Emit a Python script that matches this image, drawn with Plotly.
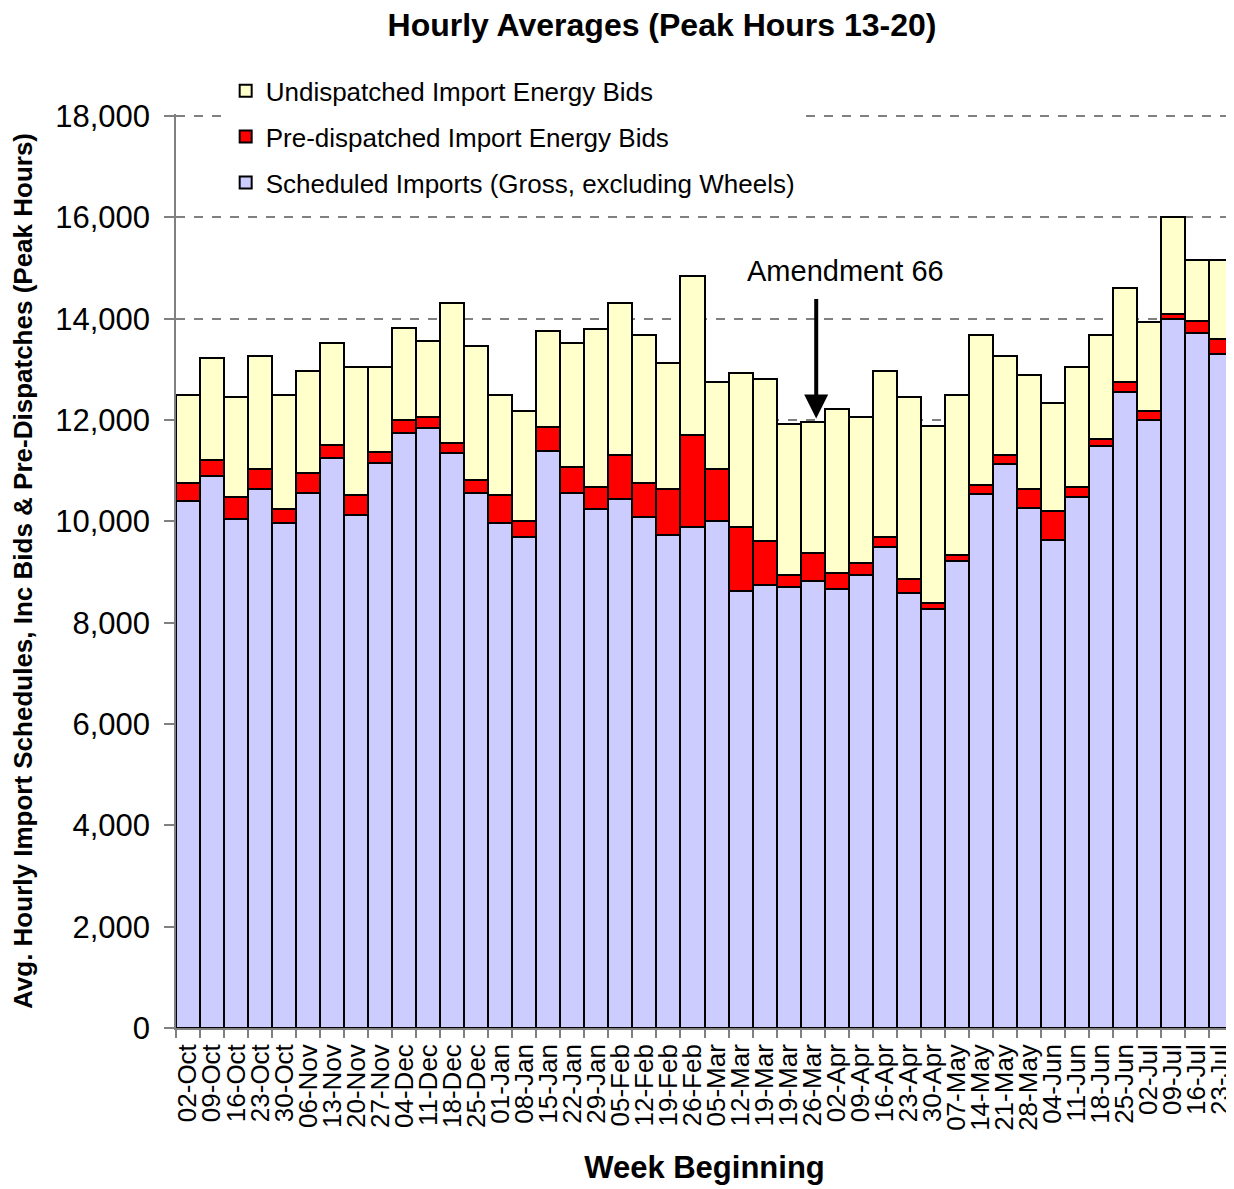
import plotly.graph_objects as go

weeks = ["02-Oct", "09-Oct", "16-Oct", "23-Oct", "30-Oct", "06-Nov", "13-Nov", "20-Nov", "27-Nov",
         "04-Dec", "11-Dec", "18-Dec", "25-Dec", "01-Jan", "08-Jan", "15-Jan", "22-Jan", "29-Jan",
         "05-Feb", "12-Feb", "19-Feb", "26-Feb", "05-Mar", "12-Mar", "19-Mar", "19-Mar", "26-Mar",
         "02-Apr", "09-Apr", "16-Apr", "23-Apr", "30-Apr", "07-May", "14-May", "21-May", "28-May",
         "04-Jun", "11-Jun", "18-Jun", "25-Jun", "02-Jul", "09-Jul", "16-Jul", "23-Jul"]

scheduled = [10400, 10900, 10040, 10630, 9960, 10560, 11260, 10120, 11150,
             11740, 11850, 11340, 10560, 9960, 9690, 11380, 10550, 10240,
             10440, 10080, 9730, 9890, 10000, 8630, 8740, 8700, 8820,
             8660, 8940, 9490, 8580, 8270, 9220, 10540, 11130, 10270,
             9640, 10480, 11490, 12560, 12010, 13990, 13710, 13310]

predispatched = [360, 320, 440, 400, 280, 390, 240, 400, 220,
                 270, 200, 200, 260, 560, 310, 480, 520, 430,
                 870, 670, 900, 1810, 1030, 1260, 870, 240, 550,
                 320, 240, 210, 290, 120, 120, 170, 170, 370,
                 560, 190, 130, 200, 160, 110, 240, 280]

undispatched = [1730, 2010, 1970, 2240, 2250, 2010, 2020, 2520, 1670,
                1810, 1500, 2760, 2650, 1970, 2170, 1890, 2450, 3120,
                2990, 2920, 2490, 3150, 1730, 3030, 3190, 2990, 2600,
                3240, 2880, 3260, 3580, 3500, 3150, 2960, 1970, 2240,
                2130, 2370, 2050, 1850, 1770, 1900, 1210, 1570]

amendment_index = 26
amendment_value = 12030

idx = list(range(len(weeks)))
FONT = "Arial, Liberation Sans, sans-serif"

# page has an 8px body margin, so the figure is 8px smaller than the window
W, H = 1226, 1181

fig = go.Figure()
series = [
    ("Scheduled Imports (Gross, excluding Wheels)", scheduled, "#CCCCFF", "g1", 3),
    ("Pre-dispatched Import Energy Bids", predispatched, "#FF0000", "g2", 2),
    ("Undispatched Import Energy Bids", undispatched, "#FFFFCC", "g3", 1),
]
for name, vals, col, grp, rank in series:
    fig.add_trace(go.Bar(
        x=idx, y=vals, name=name, legendgroup=grp, legendrank=rank,
        marker=dict(color=col, line=dict(color="black", width=2)),
    ))

fig.add_annotation(
    x=amendment_index + 0.15, y=amendment_value, xref="x", yref="y",
    text="", showarrow=True, ax=0, ay=-121,
    arrowhead=2, arrowwidth=4, arrowsize=1.2, arrowcolor="black",
)
fig.add_annotation(
    x=amendment_index + 1.35, y=14950, xref="x", yref="y",
    text="Amendment 66", showarrow=False,
    font=dict(family=FONT, size=29, color="black"),
)

fig.update_layout(
    width=W, height=H,
    margin=dict(l=168, r=1, t=106, b=161, autoexpand=False),
    paper_bgcolor="white", plot_bgcolor="white",
    barmode="stack", bargap=0,
    font=dict(family=FONT, color="black"),
    title=dict(text="<b>Hourly Averages (Peak Hours 13-20)</b>",
               x=654 / W, xanchor="center", xref="container",
               y=1 - 17 / H, yanchor="middle", yref="container",
               font=dict(family=FONT, size=32, color="black")),
    legend=dict(
        x=0.047, y=1.051, xanchor="left", yanchor="top",
        bgcolor="white", borderwidth=0,
        traceorder="grouped", tracegroupgap=9,
        font=dict(family=FONT, size=26, color="black"),
    ),
    showlegend=True,
)

fig.update_xaxes(
    type="category", automargin=False,
    tickmode="array", tickvals=idx, ticktext=weeks,
    tickangle=-90, tickson="boundaries",
    ticks="outside", ticklen=8, tickcolor="#808080", tickwidth=1.5,
    ticklabelstandoff=4,
    showline=True, linecolor="#808080", linewidth=1.5,
    showgrid=False,
    tickfont=dict(family=FONT, size=26, color="black"),
    title=dict(text="<b>Week Beginning</b>", font=dict(family=FONT, size=31, color="black"), standoff=26),
    range=[-0.5, len(weeks) - 0.5],
)

fig.update_yaxes(
    automargin=False,
    range=[0, 18040], tickvals=[0, 2000, 4000, 6000, 8000, 10000, 12000, 14000, 16000, 18000],
    tickformat=",d",
    ticks="outside", ticklen=10, tickcolor="#808080", tickwidth=1.5,
    ticklabelstandoff=8,
    showline=True, linecolor="#808080", linewidth=1.5,
    showgrid=True, gridcolor="#808080", gridwidth=1.5, griddash="dash",
    zeroline=False,
    tickfont=dict(family=FONT, size=31, color="black"),
    title=dict(text="<b>Avg. Hourly Import Schedules, Inc Bids & Pre-Dispatches (Peak Hours)</b>",
               font=dict(family=FONT, size=26, color="black"), standoff=17),
)

fig.write_html("out.html")
